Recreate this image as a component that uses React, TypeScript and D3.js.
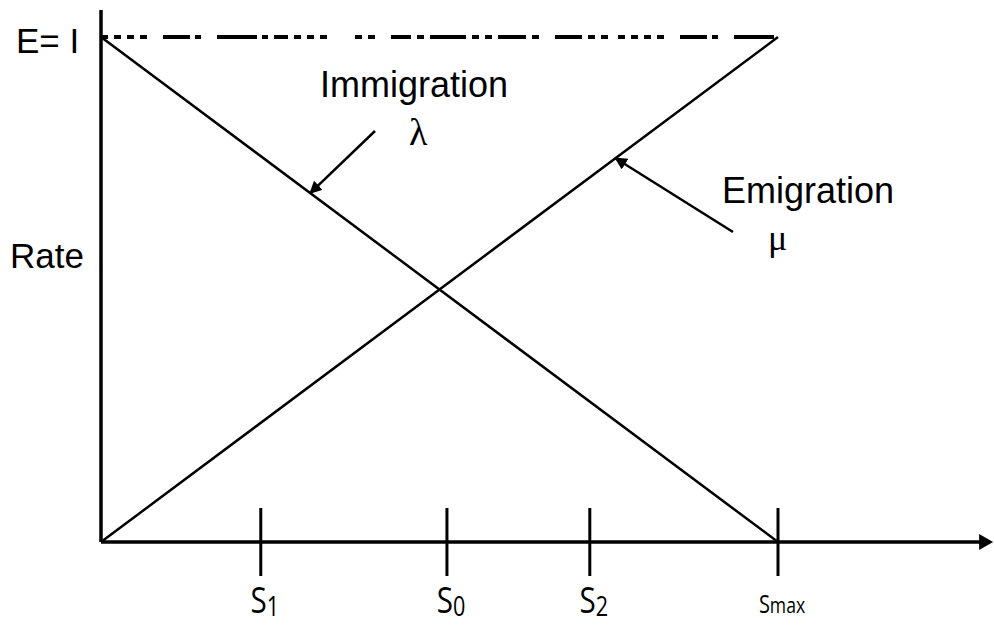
import { useEffect, useRef } from 'react';
import * as d3 from 'd3';

// species counts as a fraction of Smax, rates as a fraction of E = I
const tickNames = ['S1', 'S0', 'S2', 'Smax'];
const tickValues = [0.236, 0.511, 0.722, 1.0];
const immigration = [[0, 1], [1, 0]];
const emigration = [[0, 0], [1, 1]];
const maxRate = [[0, 1], [1, 1]];

const W = 994;
const H = 626;

const App = () => {
    const ref = useRef<SVGSVGElement>(null);

    useEffect(() => {
        if (!ref.current) return;
        const svg = d3.select(ref.current);
        svg.selectAll('*').remove();

        const x = d3.scaleLinear().domain([0, 1]).range([101, 778]);
        const y = d3.scaleLinear().domain([0, 1]).range([542, 37]);
        const line = d3.line<number[]>().x(d => x(d[0])).y(d => y(d[1]));

        svg.append('defs').append('marker')
            .attr('id', 'head')
            .attr('viewBox', '0 0 10 10')
            .attr('refX', 9).attr('refY', 5)
            .attr('markerWidth', 5).attr('markerHeight', 5)
            .attr('orient', 'auto')
            .append('path')
            .attr('d', 'M0,0L10,5L0,10z')
            .attr('fill', '#000');

        // E = I dash-dot line (scanned, irregular)
        svg.append('path')
            .attr('d', line(maxRate))
            .attr('fill', 'none')
            .attr('stroke', '#000')
            .attr('stroke-width', 4)
            .attr('stroke-dasharray',
                '7,6,7,6,7,6,7,16,27,5,6,16,40,5,6,6,14,6,7,6,7,6,7,28,7,6,7,16,20,6,7,6,36,6,7,6,7,6,28,6,7,16,27,6,7,6,7,10')
            .attr('stroke-dashoffset', 0);

        // the two rate lines
        [immigration, emigration].forEach(d => {
            svg.append('path')
                .attr('d', line(d))
                .attr('fill', 'none')
                .attr('stroke', '#000')
                .attr('stroke-width', 2.5);
        });

        // axes
        svg.append('line')
            .attr('x1', x(0)).attr('y1', 10)
            .attr('x2', x(0)).attr('y2', y(0))
            .attr('stroke', '#000').attr('stroke-width', 3.5);
        svg.append('line')
            .attr('x1', x(0)).attr('y1', y(0))
            .attr('x2', x(1.3)).attr('y2', y(0))
            .attr('stroke', '#000').attr('stroke-width', 3.5);
        svg.append('path')
            .attr('d', `M${x(1.3) - 2},${y(0) - 8}L${x(1.3) + 12},${y(0)}L${x(1.3) - 2},${y(0) + 8}z`)
            .attr('fill', '#000');

        // ticks
        const ticks = svg.append('g');
        ticks.selectAll('line')
            .data(tickValues)
            .join('line')
            .attr('x1', d => x(d)).attr('x2', d => x(d))
            .attr('y1', y(0) - 34).attr('y2', y(0) + 34)
            .attr('stroke', '#000').attr('stroke-width', 3);

        const labels = ticks.selectAll('text')
            .data(tickNames)
            .join('text')
            .attr('transform', (d, i) => `translate(${x(tickValues[i]) + 4},613) scale(0.8,1)`)
            .attr('text-anchor', 'middle')
            .attr('font-family', 'Open Sans, sans-serif')
            .attr('fill', '#000');
        labels.each(function (d) {
            const t = d3.select(this);
            if (d === 'Smax') {
                t.append('tspan').attr('font-size', 25).text('S');
                t.append('tspan').attr('font-size', 22).text('max');
            } else {
                t.append('tspan').attr('font-size', 37).text('S');
                t.append('tspan').attr('font-size', 27).attr('dy', 3).text(d.slice(1));
            }
        });

        // annotation arrows
        const imX = 0.309;
        const emX = 0.76;
        svg.append('line')
            .attr('x1', 375).attr('y1', 131)
            .attr('x2', x(imX)).attr('y2', y(1 - imX))
            .attr('stroke', '#000').attr('stroke-width', 2.5)
            .attr('marker-end', 'url(#head)');
        svg.append('line')
            .attr('x1', 733).attr('y1', 232)
            .attr('x2', x(emX)).attr('y2', y(emX))
            .attr('stroke', '#000').attr('stroke-width', 2.5)
            .attr('marker-end', 'url(#head)');

        const sans = 'Liberation Sans, Arial, sans-serif';
        const serif = 'Liberation Serif, Times New Roman, serif';
        const txt = (s: string, tx: number, ty: number, font: string, size: number) =>
            svg.append('text')
                .attr('x', tx).attr('y', ty)
                .attr('font-family', font)
                .attr('font-size', size)
                .attr('fill', '#000')
                .text(s);

        txt('E= I', 16, 53, sans, 35);
        txt('Rate', 10, 268, sans, 35);
        txt('Immigration', 320, 97, sans, 36);
        txt('λ', 409, 145, serif, 38);
        txt('Emigration', 722, 203, sans, 36);
        txt('μ', 768, 250, serif, 36);
    }, []);

    return (
        <svg ref={ref} width={W} height={H}
            style={{ position: 'absolute', left: 0, top: 0, background: '#fff' }} />
    );
};

export default App;
